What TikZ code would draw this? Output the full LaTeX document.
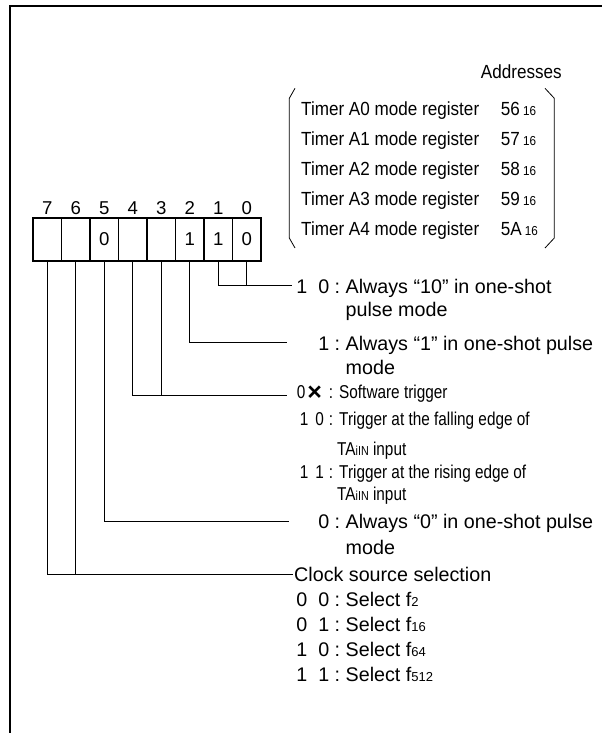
\documentclass[tikz,border=0pt]{standalone}
\usepackage{fontspec}
\setmainfont{Liberation Sans}
\newfontfamily\narrowfont[FakeStretch=0.825]{Liberation Sans}
\newfontfamily\timerfont[FakeStretch=0.9]{Liberation Sans}
\usetikzlibrary{positioning}
\usetikzlibrary{calc}

\newcommand\sm[1]{{\fontsize{13}{13}\selectfont #1}}
\newcommand\cbox[1]{\makebox[51.5pt][l]{\makebox[46pt][r]{#1}}}
\newcommand\cboxn[1]{\makebox[45pt][l]{\makebox[39pt][r]{#1}}}
\newcommand\crossmark{\raisebox{-2.4pt}{\rmfamily\bfseries\fontsize{25}{25}\selectfont ×}}

\begin{document}
\begin{tikzpicture}[x=1pt, y=-1pt,
  cell/.style={draw, line width=1.8pt, minimum width=28.5pt, minimum height=43pt,
    inner sep=0pt, outer sep=0pt, font=\fontsize{18.6}{18.6}\selectfont},
  bitnum/.style={inner sep=0pt, font=\fontsize{18.6}{18.6}\selectfont},
  reg/.style={anchor=base west, inner sep=0pt, font=\timerfont\fontsize{19}{20}\selectfont},
  item/.style={anchor=base west, inner sep=0pt, font=\fontsize{19.7}{24}\selectfont},
  wire/.style={line width=0.9pt}]

\useasboundingbox (0,0) rectangle (602,733);
\draw[line width=2pt] (10,733) -- (10,6) -- (602,6);

% register bits
\foreach \b/\v in {7/{},6/{},5/0,4/{},3/{},2/1,1/1,0/0}{
  \node[cell] (b\b) at ({47.25+(7-\b)*28.5}, 239.5) {\raisebox{-2.3pt}{\v}};
  \node[bitnum] (n\b) at ($(b\b.center)+(0,-31.8)$) {\b};
}

% address list
\draw[line width=0.8pt] (295,88.3) -- (289.3,98.3) -- (289.3,238) -- (295,248);
\draw[line width=0.8pt] (545,88.3) -- (554.3,98.3) -- (554.3,238) -- (545,248);
\node[reg] (addr) at (480.7,78.5) {Addresses};
\foreach \n/\a [count=\i from 0] in {0/56,1/57,2/58,3/59,4/5A}{
  \node[reg] (t\n) at (301,{115.8+\i*29.9}) {Timer A\n\ mode register};
  \node[reg] (a\n) at (500.7,{115.8+\i*29.9}) {\a\,\sm{16}};
}

% ends of the leads
\coordinate (e10) at (292,285);
\coordinate (e2) at (287,342.5);
\coordinate (e43) at (287,395.5);
\coordinate (e5) at (288.5,521);
\coordinate (e76) at (293,574);

\draw[wire] (b1.south) |- (e10);
\draw[wire] (b0.south) -- (b0.south |- e10);
\draw[wire] (b2.south) |- (e2);
\draw[wire] (b4.south) |- (e43);
\draw[wire] (b3.south) -- (b3.south |- e43);
\draw[wire] (b5.south) |- (e5);
\draw[wire] (b7.south) |- (e76);
\draw[wire] (b6.south) -- (b6.south |- e76);

% bit descriptions
\node[item] (m10) at (294,293) {\begin{tabular}[t]{@{}l@{}l@{}}
  \cbox{1\ \ 0 :}&Always “10” in one-shot\\[-1pt]
  &pulse mode
\end{tabular}};

\node[item] (m2) at (294,350.5) {\begin{tabular}[t]{@{}l@{}l@{}}
  \cbox{1 :}&Always “1” in one-shot pulse\\
  &mode
\end{tabular}};

\node[item, font=\narrowfont\fontsize{18.6}{23.5}\selectfont] (m43) at (294,398.5) {\begin{tabular}[t]{@{}l@{}l@{}}
  \cboxn{0\hspace{2pt}\crossmark\hspace{7pt}:}&Software trigger\\[3.5pt]
  \cboxn{1\hspace{7pt}0\hspace{5pt}:}&Trigger at the falling edge of\\[6pt]
  &\hspace{-2pt}TA\sm{iIN} input\\[-0.5pt]
  \cboxn{1\hspace{7pt}1\hspace{5pt}:}&Trigger at the rising edge of\\[-1.5pt]
  &\hspace{-2pt}TA\sm{iIN} input
\end{tabular}};

\node[item] (m5) at (294,528.5) {\begin{tabular}[t]{@{}l@{}l@{}}
  \cbox{0 :}&Always “0” in one-shot pulse\\[2pt]
  &mode
\end{tabular}};

\node[item] (m76) at (294,581.5) {\begin{tabular}[t]{@{}l@{}l@{}}
  \multicolumn{2}{@{}l@{}}{Clock source selection}\\[1pt]
  \cbox{0\ \ 0 :}&Select f\sm{2}\\[1pt]
  \cbox{0\ \ 1 :}&Select f\sm{16}\\[1pt]
  \cbox{1\ \ 0 :}&Select f\sm{64}\\[1pt]
  \cbox{1\ \ 1 :}&Select f\sm{512}
\end{tabular}};

\end{tikzpicture}
\end{document}
